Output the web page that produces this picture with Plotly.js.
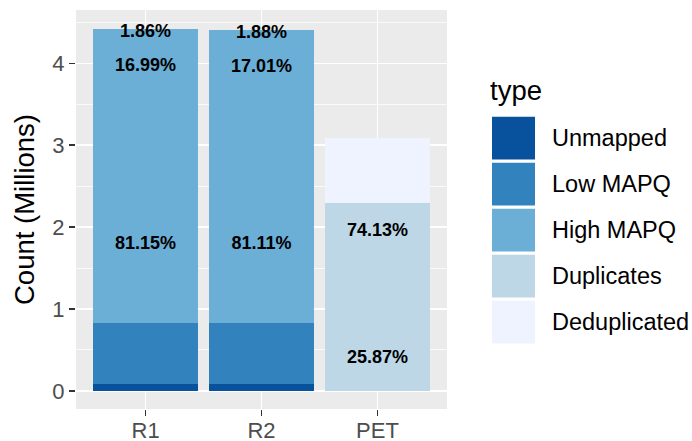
<!DOCTYPE html>
<html>
<head>
<meta charset="utf-8">
<script src="https://cdn.plot.ly/plotly-3.0.1.min.js"></script>
<style>
html,body{margin:0;padding:0;background:#fff;}
#chart{width:692px;height:441px;}
</style>
</head>
<body>
<div id="chart"></div>
<script>
// ---- data (counts in millions) ----
const categories = ['R1', 'R2', 'PET'];
const types = ['Unmapped', 'Low MAPQ', 'High MAPQ', 'Duplicates', 'Deduplicated'];
const colors = ['#08519C', '#3182BD', '#6BAED6', '#BDD7E7', '#EFF3FF'];

const unmapped     = [0.082, 0.083, null];
const lowMapq      = [0.751, 0.750, null];
const highMapq     = [3.587, 3.577, null];
const duplicates   = [null, null, 2.29];
const deduplicated = [null, null, 0.80];

const unmappedPct     = ['1.86%', '1.88%', null];
const lowMapqPct      = ['16.99%', '17.01%', null];
const highMapqPct     = ['81.15%', '81.11%', null];
const duplicatesPct   = [null, null, '74.13%'];
const deduplicatedPct = [null, null, '25.87%'];

const yTickVals = [0, 1, 2, 3, 4];

const seriesValues = [unmapped, lowMapq, highMapq, duplicates, deduplicated];
const seriesLabels = [unmappedPct, lowMapqPct, highMapqPct, duplicatesPct, deduplicatedPct];

// ---- geometry helpers (layout only) ----
const W = 692, H = 441;
const L = 76, R = 447, T = 10, B = 409;
const px = x => (x - L) / (R - L);
const py = y => (B - y) / (B - T);

const FONT = 'Liberation Sans, Arial, Helvetica, sans-serif';

// ---- bar traces ----
const traces = types.map((t, i) => ({
  type: 'bar',
  name: t,
  x: categories,
  y: seriesValues[i],
  marker: {color: colors[i], line: {width: 0}},
  showlegend: false,
  hoverinfo: 'skip'
}));

// ---- label positions (labels stacked in reverse order) ----
const lx = [], ly = [], lt = [];
categories.forEach((c, ci) => {
  let cum = 0;
  for (let k = types.length - 1; k >= 0; k--) {
    const v = seriesValues[k][ci];
    if (v == null) continue;
    lx.push(c);
    ly.push(cum + v / 2);
    lt.push(seriesLabels[k][ci]);
    cum += v;
  }
});
traces.push({
  type: 'scatter',
  mode: 'text',
  x: lx, y: ly, text: lt,
  textposition: 'middle center',
  textfont: {family: FONT, size: 18, color: '#000000', weight: 'bold'},
  texttemplate: '<b>%{text}</b>',
  showlegend: false,
  hoverinfo: 'skip'
});

// ---- custom legend (large keys like ggplot) ----
const shapes = [];
const annotations = [];
const keyTops = [116.7, 162.7, 208.7, 254.7, 300.7];
const keyH = 42.7;
types.forEach((t, i) => {
  shapes.push({
    type: 'rect', xref: 'paper', yref: 'paper',
    x0: px(492), x1: px(535),
    y0: py(keyTops[i] + keyH), y1: py(keyTops[i]),
    fillcolor: colors[i], line: {width: 0}, layer: 'above'
  });
  annotations.push({
    xref: 'paper', yref: 'paper',
    x: px(550), y: py(keyTops[i] + keyH / 2),
    xanchor: 'left', yanchor: 'middle',
    text: t, showarrow: false,
    font: {family: FONT, size: 23.5, color: '#000000'}
  });
});
annotations.push({
  xref: 'paper', yref: 'paper',
  x: px(488), y: py(90),
  xanchor: 'left', yanchor: 'middle',
  text: 'type', showarrow: false,
  font: {family: FONT, size: 27.5, color: '#000000'}
});

const layout = {
  width: W, height: H,
  margin: {l: L, r: W - R, t: T, b: H - B, pad: 0},
  paper_bgcolor: '#FFFFFF',
  plot_bgcolor: '#EBEBEB',
  barmode: 'stack',
  bargap: 0.1,
  showlegend: false,
  font: {family: FONT},
  xaxis: {
    type: 'category',
    range: [-0.6, 2.6],
    showgrid: true, gridcolor: '#FFFFFF', gridwidth: 1.5,
    zeroline: false, showline: false,
    ticks: 'outside', ticklen: 6, tickwidth: 1.5, tickcolor: '#333333',
    ticklabelstandoff: -4,
    tickfont: {family: FONT, size: 22, color: '#4D4D4D'},
    automargin: false, fixedrange: true
  },
  yaxis: {
    range: [-0.2215, 4.6515],
    tickvals: yTickVals,
    ticktext: yTickVals.map(String),
    showgrid: true, gridcolor: '#FFFFFF', gridwidth: 1.5,
    minor: {dtick: 0.5, showgrid: true, gridcolor: '#FFFFFF', gridwidth: 0.75, ticks: ''},
    zeroline: false, showline: false,
    ticks: 'outside', ticklen: 6, tickwidth: 1.5, tickcolor: '#333333',
    tickfont: {family: FONT, size: 22, color: '#4D4D4D'},
    title: {text: 'Count (Millions)', font: {family: FONT, size: 27.5, color: '#000000'}, standoff: 9},
    automargin: false, fixedrange: true
  },
  shapes: shapes,
  annotations: annotations
};

Plotly.newPlot('chart', traces, layout, {staticPlot: true, displayModeBar: false});
</script>
</body>
</html>
